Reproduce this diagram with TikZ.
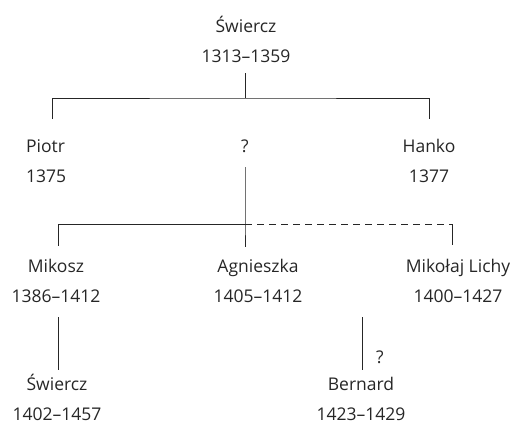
\documentclass[tikz,border=0pt]{standalone}
\usepackage{fontspec}
\setmainfont{Open Sans}
\definecolor{ink}{HTML}{262626}
\begin{document}
\begin{tikzpicture}[x=1pt,y=-1pt,
  person/.style={anchor=base,align=center,inner sep=0pt,text=ink,
    font=\fontsize{17.5}{30}\selectfont},
  lbl/.style={anchor=base,inner sep=0pt,text=ink,font=\fontsize{17.5}{30}\selectfont},
  link/.style={draw=ink,line width=1pt},
  maybe/.style={link,dash pattern=on 7pt off 5pt}]
\useasboundingbox (0,0) rectangle (520,423);
% people (anchor = baseline of the date line)
\node[person] (sw1) at (246,62) {Świercz\\1313–1359};
\node[person,anchor=base west,align=left] (piotr) at (26,182) {Piotr\\1375};
\node[lbl] (unk) at (245,152) {?};
\node[person] (hanko) at (429,182) {Hanko\\1377};
\node[person] (mikosz) at (56,302) {Mikosz\\1386–1412};
\node[person] (agn) at (258,302) {Agnieszka\\1405–1412};
\node[person] (mikolaj) at (458,302) {Mikołaj Lichy\\1400–1427};
\node[person] (sw2) at (57,420) {Świercz\\1402–1457};
\node[person] (bern) at (361,420) {Bernard\\1423–1429};
\node[lbl] (q) at (380,363) {?};
% junction points
\coordinate (j1) at (245,98);
\coordinate (j2) at (245,224);
\coordinate (j3) at (452,224);
% connectors
\draw[link] (245,73) -- (j1);
\draw[link] (52,119) |- (j1) -| (429,119);
\draw[link] (245,167) -- (j2) -- (245,247);
\draw[link] (j2) -| (58,246);
\draw[maybe] (j2) -- (j3);
\draw[link] (j3) -- (452,245);
\draw[link] (58,317) -- (58,370);
\draw[link] (362,317) -- (362,370);
\end{tikzpicture}
\end{document}
